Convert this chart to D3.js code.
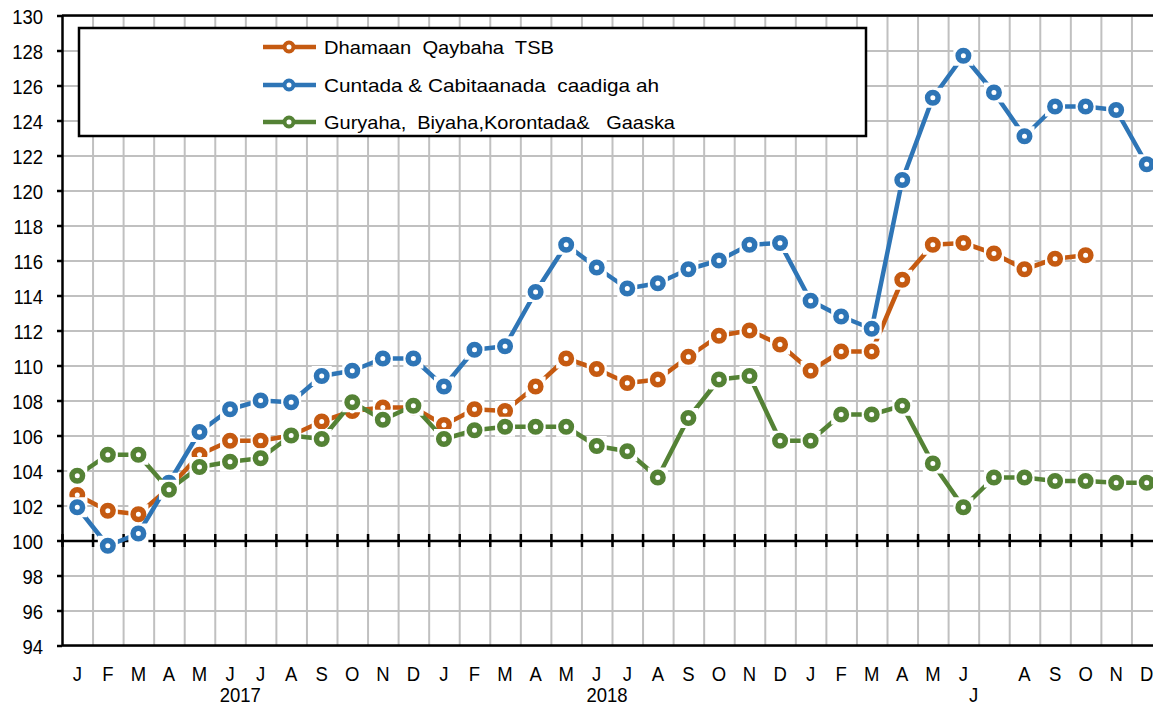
<meta charset="utf-8">
<style type="text/css">
  body { margin: 0; background: #fff; }
  svg { font-family: "Liberation Sans", Arial, sans-serif; display: block; }
  .grid line { stroke: #c0c0c0; stroke-width: 2; }
  .grid .domain { display: none; }
  .series-line { fill: none; stroke-width: 4.5; stroke-linejoin: round; }
  .marker { fill: #fff; stroke-width: 5.5; }
  .box { fill: #fff; }
</style>
<body>
<script src="https://d3js.org/d3.v7.min.js"></script>
<script>

// month labels for the 36 categories (July 2019 label is blank in the original)
var months = ["J","F","M","A","M","J","J","A","S","O","N","D",
              "J","F","M","A","M","J","J","A","S","O","N","D",
              "J","F","M","A","M","J","","A","S","O","N","D"];
var years = ["2017", "2018", "J"];

var seriesNames = ["Dhamaan  Qaybaha  TSB",
                   "Cuntada & Cabitaanada  caadiga ah",
                   "Guryaha,  Biyaha,Korontada&   Gaaska"];
var seriesColors = ["#c55a11", "#2e75b6", "#548235"];

var dhamaan = [102.6, 101.7, 101.5, 103.0, 104.9, 105.7, 105.7, 106.0, 106.8, 107.4, 107.6, 107.6,
               106.6, 107.5, 107.4, 108.8, 110.4, 109.8, 109.0, 109.2, 110.5, 111.7, 112.0, 111.2,
               109.7, 110.8, 110.8, 114.9, 116.9, 117.0, 116.4, 115.5, 116.1, 116.3, null, null];
var cuntada = [101.9, 99.7, 100.4, 103.3, 106.2, 107.5, 108.0, 107.9, 109.4, 109.7, 110.4, 110.4,
               108.8, 110.9, 111.1, 114.2, 116.9, 115.6, 114.4, 114.7, 115.5, 116.0, 116.9, 117.0,
               113.7, 112.8, 112.1, 120.6, 125.3, 127.7, 125.6, 123.1, 124.8, 124.8, 124.6, 121.5];
var guryaha = [103.7, 104.9, 104.9, 102.9, 104.2, 104.5, 104.7, 106.0, 105.8, 107.9, 106.9, 107.7,
               105.8, 106.3, 106.5, 106.5, 106.5, 105.4, 105.1, 103.6, 107.0, 109.2, 109.4, 105.7,
               105.7, 107.2, 107.2, 107.7, 104.4, 101.9, 103.6, 103.6, 103.4, 103.4, 103.3, 103.3];

var yTicks = d3.range(94, 131, 2);

// geometry (the plot runs past the right edge of the picture, as in the original)
var W = 1153, H = 706;
var plotLeft = 62, plotRight = 1162, plotTop = 15.5, plotBottom = 645.5;
var stretch = 1.13;   // the original text is a little taller than wide
var fontSize = 18.5;

var svg = d3.select("body").append("svg")
    .attr("width", W)
    .attr("height", H);

svg.append("rect").attr("width", W).attr("height", H).attr("fill", "#fff");

var idx = d3.range(months.length);
var x = d3.scaleBand().domain(idx).range([plotLeft, plotRight]).padding(0);
var xb = d3.scaleLinear().domain([0, months.length]).range([plotLeft, plotRight]); // category boundaries
var y = d3.scaleLinear().domain([94, 130]).range([plotBottom, plotTop]);

var cx = function(i) { return x(i) + x.bandwidth() / 2; };

// gridlines
svg.append("g")
    .attr("class", "grid")
    .attr("transform", "translate(0," + plotBottom + ")")
    .call(d3.axisBottom(xb).tickValues(d3.range(1, months.length + 1))
        .tickSize(-(plotBottom - plotTop)).tickFormat(""));
svg.append("g")
    .attr("class", "grid")
    .attr("transform", "translate(" + plotLeft + ",0)")
    .call(d3.axisLeft(y).tickValues(yTicks).tickSize(-(plotRight - plotLeft)).tickFormat(""));

// frame: top and bottom borders
svg.append("line").attr("x1", plotLeft).attr("x2", plotRight).attr("y1", y(130)).attr("y2", y(130))
    .attr("stroke", "#000").attr("stroke-width", 2.5);
svg.append("line").attr("x1", plotLeft).attr("x2", plotRight).attr("y1", y(94)).attr("y2", y(94))
    .attr("stroke", "#000").attr("stroke-width", 2.5);

// horizontal axis at 100 with crossing ticks
var xAxis100 = svg.append("g")
    .attr("transform", "translate(0," + y(100) + ")")
    .call(d3.axisBottom(xb).tickValues(d3.range(0, months.length + 1)).tickSizeOuter(0).tickFormat(""));
xAxis100.select(".domain").attr("stroke", "#000").attr("stroke-width", 2.5);
xAxis100.selectAll(".tick line").attr("y1", -6.5).attr("y2", 6.5)
    .attr("stroke", "#000").attr("stroke-width", 2.5);

// y axis
var yAxis = svg.append("g")
    .attr("transform", "translate(" + plotLeft + ",0)")
    .call(d3.axisLeft(y).tickValues(yTicks).tickSize(5).tickSizeOuter(0));
yAxis.select(".domain").attr("stroke", "#000").attr("stroke-width", 2.5);
yAxis.selectAll(".tick line").attr("stroke", "#000").attr("stroke-width", 2.5);
yAxis.selectAll("text")
    .attr("x", 0).attr("y", 0).attr("dy", 0)
    .attr("transform", "translate(-19,7.5) scale(1," + stretch + ")")
    .attr("font-size", fontSize).attr("fill", "#000")
    .attr("font-family", "Liberation Sans, Arial, sans-serif");

// month labels
var xAxis = svg.append("g")
    .attr("transform", "translate(0," + plotBottom + ")")
    .call(d3.axisBottom(x).tickSize(0).tickFormat(function(i) { return months[i]; }));
xAxis.select(".domain").remove();
xAxis.selectAll("text")
    .attr("x", 0).attr("y", 0).attr("dy", 0)
    .attr("transform", "translate(0,35) scale(1," + stretch + ")")
    .attr("font-size", fontSize).attr("fill", "#000")
    .attr("font-family", "Liberation Sans, Arial, sans-serif");

// year group labels
svg.selectAll(".year")
    .data(years)
  .enter().append("text")
    .attr("class", "year")
    .attr("transform", function(d, i) {
        return "translate(" + (xb(i * 12 + 6) - 5) + ",701.5) scale(1," + stretch + ")";
    })
    .attr("text-anchor", "middle")
    .attr("font-size", fontSize)
    .text(function(d) { return d; });

// series: line, white boxes behind markers, then markers
var allSeries = [dhamaan, cuntada, guryaha];
var line = d3.line()
    .defined(function(d) { return d != null; })
    .x(function(d, i) { return cx(i); })
    .y(function(d) { return y(d); });

allSeries.forEach(function(vals, s) {
    var g = svg.append("g");
    g.append("path")
        .datum(vals)
        .attr("class", "series-line")
        .attr("stroke", seriesColors[s])
        .attr("d", line);
    var pts = vals.map(function(v, i) { return {i: i, v: v}; })
        .filter(function(d) { return d.v != null; });
    g.selectAll(".box")
        .data(pts)
      .enter().append("rect")
        .attr("class", "box")
        .attr("x", function(d) { return cx(d.i) - 10; })
        .attr("y", function(d) { return y(d.v) - 10; })
        .attr("width", 20)
        .attr("height", 20);
    g.selectAll(".marker")
        .data(pts)
      .enter().append("circle")
        .attr("class", "marker")
        .attr("stroke", seriesColors[s])
        .attr("cx", function(d) { return cx(d.i); })
        .attr("cy", function(d) { return y(d.v); })
        .attr("r", 5.25);
});

// legend
var legend = svg.append("g");
legend.append("rect")
    .attr("x", 79).attr("y", 28).attr("width", 787).attr("height", 108)
    .attr("fill", "#fff").attr("stroke", "#000").attr("stroke-width", 2.5);

var legendRows = [47, 85, 122];
var legendWidths = [230, 335, 351];
seriesNames.forEach(function(name, s) {
    var ly = legendRows[s];
    legend.append("line")
        .attr("x1", 263).attr("x2", 316).attr("y1", ly).attr("y2", ly)
        .attr("stroke", seriesColors[s]).attr("stroke-width", 4.5);
    legend.append("circle")
        .attr("cx", 289).attr("cy", ly).attr("r", 4.5)
        .attr("fill", "#fff").attr("stroke", seriesColors[s]).attr("stroke-width", 4);
    legend.append("text")
        .attr("x", 324).attr("y", ly + 7)
        .attr("font-size", 19)
        .attr("textLength", legendWidths[s])
        .attr("lengthAdjust", "spacingAndGlyphs")
        .style("white-space", "pre")
        .text(name);
});

</script>
</body>
